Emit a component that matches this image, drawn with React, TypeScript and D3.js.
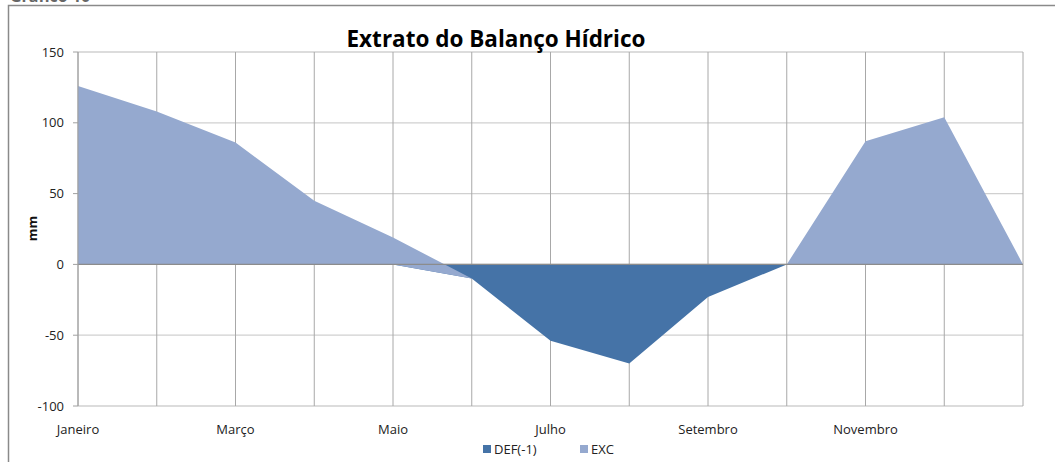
import * as d3 from 'd3';
import { useEffect, useRef } from 'react';

const months = ['Janeiro', 'Fevereiro', 'Março', 'Abril', 'Maio', 'Junho', 'Julho', 'Agosto', 'Setembro', 'Outubro', 'Novembro', 'Dezembro', ''];
const def = [0, 0, 0, 0, 0, -10, -54, -70, -23, 0, 0, 0, 0];
const exc = [126, 108, 86, 45, 19, 0, 0, 0, 0, 0, 87, 104, 0];
const yTicks = [-100, -50, 0, 50, 100, 150];

const DEF_COLOR = '#4573a7';
const EXC_COLOR = '#95a9cf';

export default function App() {
  const svgRef = useRef<SVGSVGElement>(null);

  useEffect(() => {
    const svg = d3.select(svgRef.current);
    svg.selectAll('*').remove();

    const width = 1055;
    const height = 462;
    const left = 78;
    const right = 1023;
    const top = 52;
    const bottom = 406;
    const font = "'Open Sans', 'DejaVu Sans', sans-serif";

    // caption above the frame, mostly cut off
    svg.append('text')
      .attr('x', 10).attr('y', 2)
      .attr('font-family', font)
      .attr('font-size', 16)
      .attr('font-weight', 'bold')
      .attr('fill', '#666')
      .text('Gráfico 10');

    // chart frame (cut at right/bottom like the screenshot)
    svg.append('rect')
      .attr('x', 8.5).attr('y', 5.5)
      .attr('width', width).attr('height', height)
      .attr('fill', '#fff').attr('stroke', '#8a8a8a').attr('stroke-width', 1.5);

    const idx = months.map((_, i) => i);
    const x = d3.scalePoint<number>().domain(idx).range([left, right]);
    const y = d3.scaleLinear().domain([-100, 150]).range([bottom, top]);

    // horizontal gridlines
    svg.append('g')
      .selectAll('line')
      .data(yTicks)
      .join('line')
      .attr('x1', left).attr('x2', right)
      .attr('y1', d => y(d)).attr('y2', d => y(d))
      .attr('stroke', '#d0d0d0').attr('stroke-width', 1.3);

    // vertical gridlines
    svg.append('g')
      .selectAll('line')
      .data(idx)
      .join('line')
      .attr('x1', d => x(d)!).attr('x2', d => x(d)!)
      .attr('y1', top).attr('y2', bottom)
      .attr('stroke', '#a8a8a8').attr('stroke-width', 1);

    // DEF area from 0 to def
    const areaDef = d3.area<number>()
      .x(i => x(i)!)
      .y0(() => y(0))
      .y1(i => y(def[i]));
    svg.append('path').datum(idx).attr('fill', DEF_COLOR).attr('d', areaDef);

    // EXC stacked on def
    const areaExc = d3.area<number>()
      .x(i => x(i)!)
      .y0(i => y(def[i]))
      .y1(i => y(def[i] + exc[i]));
    svg.append('path').datum(idx).attr('fill', EXC_COLOR).attr('d', areaExc);

    // zero axis line
    svg.append('line')
      .attr('x1', left).attr('x2', right)
      .attr('y1', y(0)).attr('y2', y(0))
      .attr('stroke', '#8c8c8c').attr('stroke-width', 1.3);

    // y axis line
    svg.append('line')
      .attr('x1', left).attr('x2', left)
      .attr('y1', top).attr('y2', bottom)
      .attr('stroke', '#a0a0a0');

    // y ticks & labels
    const yg = svg.append('g');
    yg.selectAll('line')
      .data(yTicks)
      .join('line')
      .attr('x1', left - 5).attr('x2', left)
      .attr('y1', d => y(d)).attr('y2', d => y(d))
      .attr('stroke', '#a0a0a0');
    yg.selectAll('text')
      .data(yTicks)
      .join('text')
      .attr('x', left - 14)
      .attr('y', d => y(d))
      .attr('dy', '0.35em')
      .attr('text-anchor', 'end')
      .attr('font-family', font)
      .attr('font-size', 13)
      .attr('fill', '#222')
      .text(d => d);

    // x labels every other category
    svg.append('g')
      .selectAll('text')
      .data(idx.filter(i => i % 2 === 0 && months[i]))
      .join('text')
      .attr('x', i => x(i)!)
      .attr('y', 434)
      .attr('text-anchor', 'middle')
      .attr('font-family', font)
      .attr('font-size', 13)
      .attr('fill', '#222')
      .text(i => months[i]);

    // y title
    svg.append('text')
      .attr('transform', `translate(37,${(y(0) + y(100)) / 2 + 35}) rotate(-90)`)
      .attr('text-anchor', 'middle')
      .attr('font-family', font)
      .attr('font-size', 13)
      .attr('font-weight', 'bold')
      .attr('fill', '#111')
      .text('mm');

    // title
    svg.append('text')
      .attr('x', 496)
      .attr('y', 47)
      .attr('text-anchor', 'middle')
      .attr('font-family', font)
      .attr('font-size', 22.5)
      .attr('font-weight', 'bold')
      .attr('fill', '#000')
      .text('Extrato do Balanço Hídrico');

    // legend
    const legend = [
      { label: 'DEF(-1)', color: DEF_COLOR, x: 483 },
      { label: 'EXC', color: EXC_COLOR, x: 580 },
    ];
    const lg = svg.append('g');
    lg.selectAll('rect')
      .data(legend)
      .join('rect')
      .attr('x', d => d.x).attr('y', 445)
      .attr('width', 8).attr('height', 8)
      .attr('fill', d => d.color);
    lg.selectAll('text')
      .data(legend)
      .join('text')
      .attr('x', d => d.x + 11)
      .attr('y', 454)
      .attr('font-family', font)
      .attr('font-size', 13)
      .attr('fill', '#222')
      .text(d => d.label);
  }, []);

  return (
    <svg
      ref={svgRef}
      width={1055}
      height={462}
      style={{ position: 'absolute', left: 0, top: 0 }}
    />
  );
}
